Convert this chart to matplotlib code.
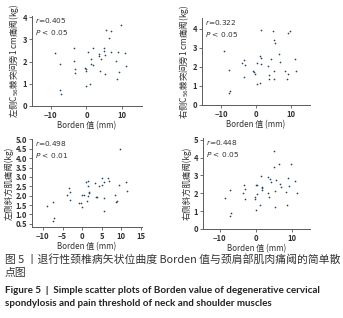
import matplotlib
matplotlib.use("Agg")
import matplotlib.pyplot as plt

plt.rcParams['font.family'] = ['Noto Sans CJK SC', 'DejaVu Sans']
plt.rcParams['mathtext.fontset'] = 'dejavusans'

# ---- data ----
l_c56_x = [-8.9, -7.5, -7.5, -7.2, -3.5, -3.6, -3.2, -3.2, -0.5, 0.0, -0.1, 0.0, 0.5,
           1.1, 1.4, 1.7, 1.4, 1.8, 3.5, 3.5, 3.8, 4.2, 4.9, 5.0, 5.1, 5.1, 5.4, 6.3,
           6.8, 7.0, 8.2, 8.8, 9.2, 8.7, 9.8, 10.9, 11.2]
l_c56_y = [2.39, 1.90, 0.73, 0.52, 2.62, 2.02, 1.67, 1.48, 1.70, 1.67, 1.57, 0.88, 2.42,
           0.97, 1.87, 1.84, 2.10, 2.60, 2.34, 2.25, 1.57, 2.10, 2.62, 2.48, 2.28, 1.42,
           3.44, 3.04, 3.38, 2.44, 2.01, 2.45, 1.51, 1.20, 3.64, 2.40, 1.78]

r_c56_x = [-9.1, -7.8, -7.4, -7.7, -4.0, -3.6, -3.3, -3.5, -0.95, -0.7, -0.3, 0.1, 1.0,
           0.3, 1.0, 1.4, 1.4, 1.5, 3.3, 3.6, 3.8, 4.2, 4.9, 5.0, 5.3, 5.2, 5.2, 6.5,
           6.95, 8.3, 9.0, 9.8, 9.2, 8.9, 11.1, 11.4]
r_c56_y = [2.83, 1.82, 0.75, 0.64, 2.20, 2.34, 2.08, 1.48, 1.77, 1.70, 1.60, 1.09, 1.13,
           2.22, 2.55, 2.47, 2.17, 3.94, 2.03, 1.56, 1.35, 2.43, 3.85, 3.42, 3.26, 1.77,
           1.34, 2.69, 2.24, 1.77, 3.77, 3.89, 1.60, 1.35, 2.41, 1.77]

l_trap_x = [-9.0, -7.4, -7.3, -7.5, -3.8, -3.4, -3.2, -3.2, -0.7, -0.2, 0.0, 0.0, 0.5,
            1.1, 1.4, 1.4, 1.4, 1.7, 1.7, 1.2, 3.6, 3.8, 3.2, 4.4, 5.1, 5.0, 5.5, 5.5,
            5.6, 6.6, 6.9, 8.4, 8.9, 8.7, 9.4, 9.7, 11.2, 11.5]
l_trap_y = [1.45, 1.66, 0.79, 0.64, 2.02, 2.43, 2.21, 1.75, 1.63, 1.61, 1.39, 2.02, 2.04,
            2.75, 2.79, 2.52, 1.98, 2.21, 2.12, 1.70, 1.93, 1.93, 2.70, 2.54, 2.93, 2.57,
            1.86, 1.18, 2.75, 2.93, 2.80, 2.02, 1.73, 1.68, 2.57, 4.50, 2.73, 2.25]

r_trap_x = [-8.6, -7.1, -6.9, -7.2, -3.1, -3.4, -2.9, -2.9, 0.0, 0.4, -0.3, -0.1, 0.2,
            1.3, 1.5, 1.7, 1.7, 1.8, 0.3, 3.5, 3.9, 3.7, 3.5, 4.4, 5.1, 5.1, 5.3, 5.3,
            5.6, 6.4, 6.7, 7.0, 8.4, 8.8, 9.1, 9.2, 9.7, 11.0, 11.4]
r_trap_y = [1.71, 2.17, 0.90, 0.72, 2.47, 2.03, 2.24, 1.66, 2.47, 2.47, 1.68, 1.77, 1.09,
            1.34, 2.99, 2.37, 2.32, 2.18, 1.98, 2.92, 2.79, 1.77, 2.00, 2.66, 4.35, 3.45,
            2.13, 1.24, 2.73, 3.63, 2.50, 2.35, 2.05, 1.34, 2.88, 2.41, 3.63, 2.67, 2.02]

ylabels = ['左侧C$_{56}$棘突间旁1 cm痛阈(kg)', '右侧C$_{56}$棘突间旁1 cm痛阈(kg)',
           '左侧斜方肌痛阈(kg)', '右侧斜方肌痛阈(kg)']
stats = [('0.405', '0.05'), ('0.322', '0.05'), ('0.498', '0.01'), ('0.448', '0.05')]
xlabel = 'Borden 值 (mm)'

# ---- layout (pixels -> figure fraction) ----
W, H = 343, 318
fig = plt.figure(figsize=(W / 100, H / 100), dpi=100)

def box(l, r, t, b):
    return [l / W, 1 - b / H, (r - l) / W, (b - t) / H]

panels = [
    dict(x=l_c56_x, y=l_c56_y, pos=box(32, 142, 16, 106), xlim=(-15.3, 15.6), ylim=(0, 4.05),
         xt=[-10, 0, 10], yt=[0, 1, 2, 3, 4], yfmt='{:g}'),
    dict(x=r_c56_x, y=r_c56_y, pos=box(202, 310, 18, 105), xlim=(-15.5, 15.4), ylim=(0, 4.55),
         xt=[-10, 0, 10], yt=[0, 1, 2, 3, 4], yfmt='{:g}'),
    dict(x=l_trap_x, y=l_trap_y, pos=box(32, 142, 139, 227), xlim=(-12.8, 15.3), ylim=(0.33, 5.02),
         xt=[-10, -5, 0, 5, 10, 15], yt=[0.5, 1, 1.5, 2, 2.5, 3, 3.5, 4, 4.5, 5], yfmt='{:.1f}'),
    dict(x=r_trap_x, y=r_trap_y, pos=box(203, 310, 138, 229), xlim=(-14.6, 15.1), ylim=(0, 5.1),
         xt=[-10, 0, 10], yt=[0, 1, 2, 3, 4, 5], yfmt='{:g}'),
]

axc = '#5a5a5a'
for p, yl, (r, pv) in zip(panels, ylabels, stats):
    ax = fig.add_axes(p['pos'])
    ax.scatter(p['x'], p['y'], s=1.5, color='#2a4560', linewidths=0)
    ax.set_xlim(p['xlim'])
    ax.set_ylim(p['ylim'])
    ax.set_xticks(p['xt'])
    ax.set_xticklabels([str(v).replace('-', '\u2212') for v in p['xt']])
    ax.set_yticks(p['yt'])
    ax.set_yticklabels([p['yfmt'].format(v) for v in p['yt']])
    for s in ['top', 'right']:
        ax.spines[s].set_visible(False)
    for s in ['left', 'bottom']:
        ax.spines[s].set_color(axc)
        ax.spines[s].set_linewidth(0.7)
    ax.tick_params(length=2, width=0.6, color=axc, pad=1.5, labelsize=5.5,
                   labelcolor='#333333')
    for lab in ax.get_xticklabels() + ax.get_yticklabels():
        lab.set_fontweight('bold')
    ax.set_xlabel(xlabel, fontsize=5.8, color='#333333', labelpad=1)
    ax.set_ylabel(yl, fontsize=6.0, color='#333333', labelpad=1)
    ax.text(0.03, 0.995, '$r$=' + r + '\n$P$ < ' + pv, transform=ax.transAxes,
            va='top', ha='left', fontsize=5.3, color='#333333', linespacing=1.3,
            family=['DejaVu Sans'])

# ---- caption ----
cap_cn = '图 5 丨退行性颈椎病矢状位曲度 Borden 值与颈肩部肌肉痛阈的简单散\n点图'
cap_en = ('Figure 5  |  Simple scatter plots of Borden value of degenerative cervical\n'
          'spondylosis and pain threshold of neck and shoulder muscles')
fig.text(5 / W, 1 - 254 / H, cap_cn, ha='left', va='top', fontsize=7.8,
         color='#333333', linespacing=1.4)
fig.text(5 / W, 1 - 286 / H, cap_en, ha='left', va='top', fontsize=7.1,
         color='#222222', fontweight='bold', linespacing=1.6,
         family=['Lato', 'DejaVu Sans'])

fig.savefig('out.png', dpi=100)
